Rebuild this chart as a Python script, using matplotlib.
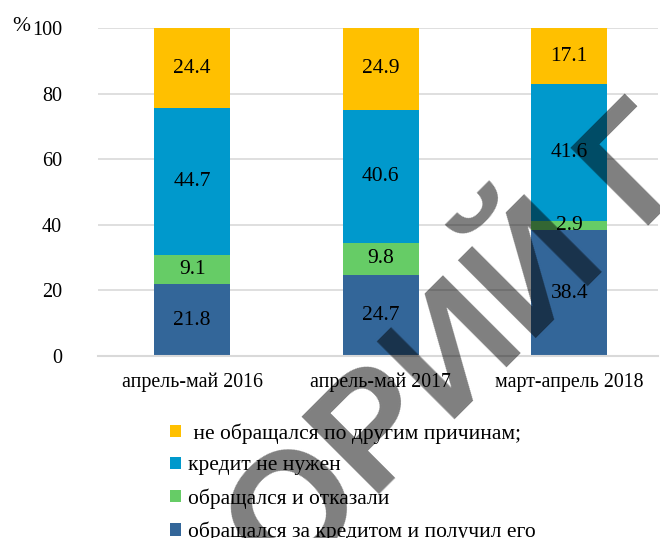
import numpy as np
import matplotlib
matplotlib.use("Agg")
import matplotlib.pyplot as plt
from matplotlib.patches import Patch

# data
periods = ["апрель-май 2016", "апрель-май 2017", "март-апрель 2018"]
got_credit = [21.8, 24.7, 38.4]
refused = [9.1, 9.8, 2.9]
not_needed = [44.7, 40.6, 41.6]
other_reasons = [24.4, 24.9, 17.1]

series_names = ["обращался за кредитом и получил его", "обращался и отказали",
                "кредит не нужен", " не обращался по другим причинам;"]
series_colors = ["#336699", "#66CC66", "#0099CC", "#FFC000"]
yticks = [0, 20, 40, 60, 80, 100]

plt.rcParams['font.family'] = ['Liberation Serif', 'DejaVu Serif']

fig = plt.figure(figsize=(6.6, 5.38), dpi=100)
ax = fig.add_axes([98 / 660, 182 / 538, 560 / 660, 328 / 538])

x = np.arange(len(periods))
bottom = np.zeros(len(periods))
for vals, col in zip([got_credit, refused, not_needed, other_reasons], series_colors):
    bars = ax.bar(x, vals, width=0.405, bottom=bottom, color=col, zorder=2)
    for rect, v, b in zip(bars, vals, bottom):
        ax.text(rect.get_x() + rect.get_width() / 2, b + v / 2, f"{v:.1f}",
                ha="center", va="center", fontsize=15.5, color="black", zorder=3)
    bottom += np.array(vals)

ax.set_xlim(-0.5, 2.471)
ax.set_ylim(0, 100)
ax.set_yticks(yticks)
ax.set_xticks(x)
ax.set_xticklabels(periods, fontsize=14.3)
ax.tick_params(axis="y", length=0, pad=26, labelsize=14.5)
ax.tick_params(axis="x", length=0, pad=12)
ax.yaxis.grid(True, color="#D9D9D9", linewidth=1.2, zorder=0)
ax.set_axisbelow(True)
for s in ["top", "right", "left"]:
    ax.spines[s].set_visible(False)
ax.spines["bottom"].set_color("#D9D9D9")
ax.spines["bottom"].set_linewidth(1.5)

fig.text(12 / 660, 1 - 17 / 538, "%", fontsize=15.5, ha="left", va="top")

handles = [Patch(facecolor=c, edgecolor="none") for c in series_colors]
leg = fig.legend(handles[::-1], series_names[::-1], loc="upper left",
                 bbox_to_anchor=(170 / 660, 1 - 423 / 538), frameon=False,
                 fontsize=15.5, handlelength=0.52, handleheight=0.52,
                 handletextpad=0.3, labelspacing=0.6, borderpad=0, borderaxespad=0)

# diagonal watermark over the chart
fig.text(285 / 660, 1 - 590 / 538, "ОРИЙ Г", rotation=45, rotation_mode="anchor",
         ha="left", va="baseline", fontsize=115, fontweight="bold",
         family="Liberation Sans", color="black", alpha=0.5, zorder=10)

fig.savefig("out.png", dpi=100)
